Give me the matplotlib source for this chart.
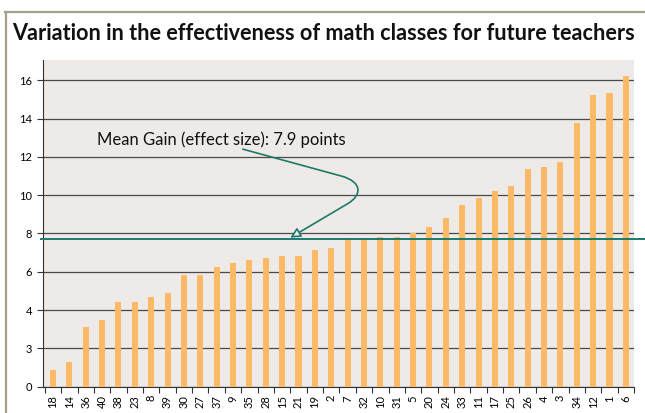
import numpy as np
import matplotlib
matplotlib.use('Agg')
import matplotlib.pyplot as plt
from matplotlib.path import Path
from matplotlib.patches import FancyArrowPatch
from matplotlib import transforms
from matplotlib.lines import Line2D

# -----------------------------------------------------------------------------
# data
# -----------------------------------------------------------------------------
classes = ['18', '14', '36', '40', '38', '23', '8', '39', '30', '27', '37',
           '9', '35', '28', '15', '21', '19', '2', '7', '32', '10', '31', '5',
           '20', '24', '33', '11', '17', '25', '26', '4', '3', '34', '12',
           '1', '6']
gains = [0.86, 1.28, 3.13, 3.48, 4.40, 4.43, 4.68, 4.91, 5.83, 5.85, 6.25,
         6.46, 6.61, 6.70, 6.82, 6.82, 7.12, 7.22, 7.70, 7.70, 7.80, 7.80,
         8.03, 8.34, 8.81, 9.49, 9.87, 10.22, 10.48, 11.37, 11.47, 11.73,
         13.79, 15.22, 15.33, 16.22]
mean_gain = 7.7
ytick_vals = [0, 2, 4, 6, 8, 10, 12, 14, 16]
ytick_text = ['0', '3', '4', '6', '8', '10', '12', '14', '16']
title = 'Variation in the effectiveness of math classes for future teachers'
note = 'Mean Gain (effect size): 7.9 points'

# colours
BAR = '#FDBA66'
BG = '#EDEAE7'
TEAL = '#1B7A6C'
FRAME = '#A3A08F'

plt.rcParams['font.family'] = ['Lato', 'DejaVu Sans']

fig = plt.figure(figsize=(6.45, 4.13), dpi=100)
ax = fig.add_axes([0.0674, 0.0637, 0.9156, 0.7913])
ax.set_facecolor(BG)

x = np.arange(len(classes))
ax.bar(x, gains, width=0.37, color=BAR, zorder=3)

ax.set_xlim(-0.58, 35.5)
ax.set_ylim(0, 17.06)
ax.set_yticks(ytick_vals)
ax.set_yticklabels(ytick_text, fontsize=8)
ax.yaxis.grid(True, color='#4A4A4A', linewidth=0.9, zorder=1)
ax.set_axisbelow(True)
ax.tick_params(axis='y', length=4, width=0.8, color='#333333', pad=4)

ax.set_xticks(x)
ax.set_xticklabels(classes, rotation=90, fontsize=8)
ax.set_xticks(np.arange(-0.5, len(classes), 1.0), minor=True)
ax.tick_params(axis='x', which='major', length=0, pad=6)
ax.tick_params(axis='x', which='minor', length=4, width=0.8, color='#333333')

for side in ['top', 'right']:
    ax.spines[side].set_visible(False)
ax.spines['left'].set_color('#333333')
ax.spines['bottom'].set_color('#333333')
ax.spines['left'].set_linewidth(0.8)
ax.spines['bottom'].set_linewidth(0.8)

# mean line runs past the plot to the edge of the figure
trans = transforms.blended_transform_factory(fig.transFigure, ax.transData)
ax.add_line(Line2D([41 / 645., 1.0], [mean_gain, mean_gain], transform=trans,
                   color=TEAL, linewidth=1.4, clip_on=False, zorder=4))

# annotation text and curly arrow
ax.text(2.7, 12.6, note, fontsize=12, color='#111111', zorder=5)
verts = [(11.6, 12.4), (17.6, 11.0), (18.9, 10.7), (18.9, 10.0),
         (18.0, 9.55), (14.5, 7.78)]
codes = [Path.MOVETO, Path.LINETO, Path.CURVE4, Path.CURVE4, Path.CURVE4,
         Path.LINETO]
arrow = FancyArrowPatch(path=Path(verts, codes),
                        arrowstyle='-|>,head_length=6,head_width=3',
                        edgecolor=TEAL, facecolor=BG, linewidth=1.2, zorder=5)
ax.add_patch(arrow)

# frame round the whole chart
fig.add_artist(Line2D([6 / 645., 6 / 645.], [0, 1 - 12 / 413.],
                      transform=fig.transFigure, color=FRAME, linewidth=1.6))
fig.add_artist(Line2D([5 / 645., 1.0], [1 - 12 / 413., 1 - 12 / 413.],
                      transform=fig.transFigure, color=FRAME, linewidth=1.6))

fig.text(12 / 645., 1 - 40 / 413., title, fontsize=15.6, fontweight='bold',
         va='baseline', ha='left', color='#111111')

fig.savefig('out.png', dpi=100)
